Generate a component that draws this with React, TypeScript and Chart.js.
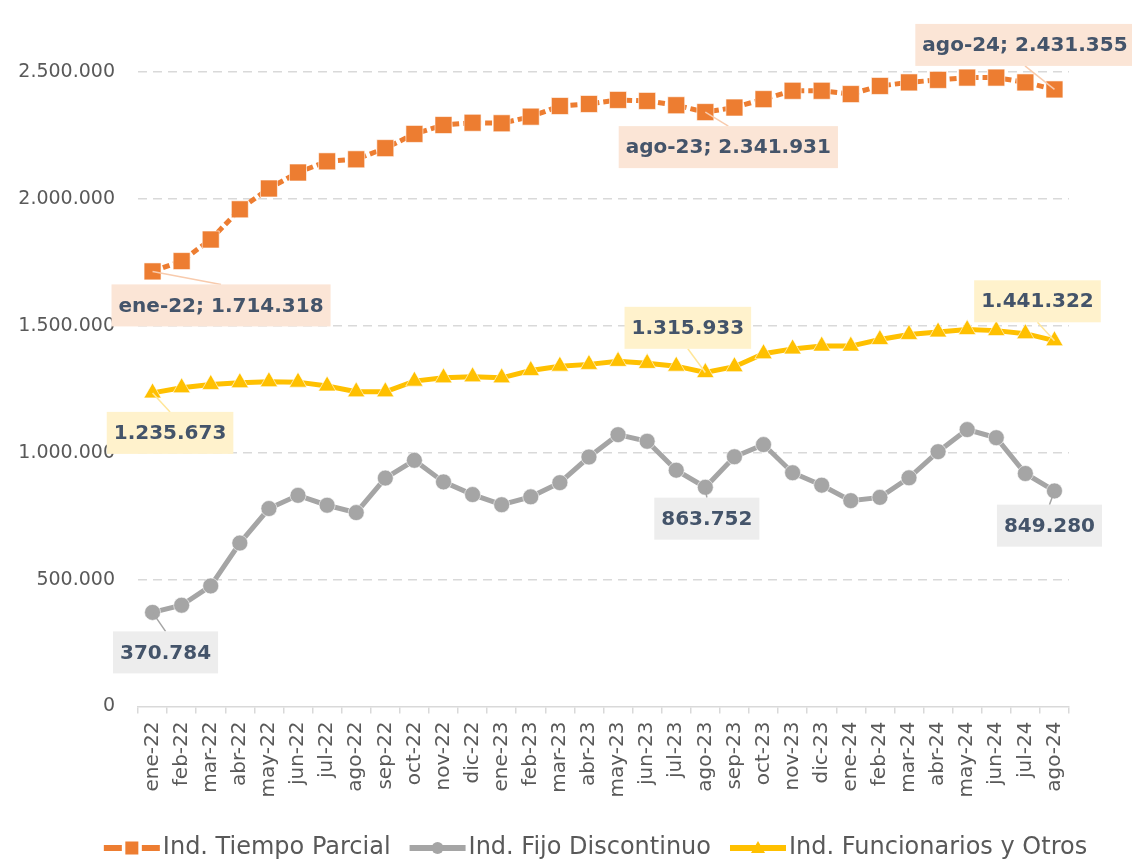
import React, { useEffect, useRef } from 'react';
import { Chart, registerables } from 'chart.js';

Chart.register(...registerables);

const FONT = '"DejaVu Sans", "Noto Sans", sans-serif';

const categories = [
  'ene-22', 'feb-22', 'mar-22', 'abr-22', 'may-22', 'jun-22', 'jul-22', 'ago-22',
  'sep-22', 'oct-22', 'nov-22', 'dic-22', 'ene-23', 'feb-23', 'mar-23', 'abr-23',
  'may-23', 'jun-23', 'jul-23', 'ago-23', 'sep-23', 'oct-23', 'nov-23', 'dic-23',
  'ene-24', 'feb-24', 'mar-24', 'abr-24', 'may-24', 'jun-24', 'jul-24', 'ago-24',
];

const tiempoParcial = [
  1714318, 1755000, 1840000, 1959000, 2041000, 2104000, 2148000, 2156000,
  2200000, 2256000, 2291000, 2300000, 2298000, 2324000, 2366000, 2374000,
  2390000, 2386000, 2369000, 2341931, 2360000, 2393000, 2426000, 2426000,
  2413000, 2445000, 2459000, 2469000, 2478000, 2478000, 2459000, 2431355,
];

const fijoDiscontinuo = [
  370784, 399000, 475000, 644000, 780000, 832000, 793000, 764000,
  900000, 970000, 885000, 835000, 795000, 826000, 882000, 983000,
  1071000, 1045000, 931000, 863752, 984000, 1032000, 921000, 872000,
  811000, 824000, 901000, 1004000, 1091000, 1059000, 918000, 849280,
];

const funcionarios = [
  1235673, 1256000, 1269000, 1276000, 1280000, 1278000, 1263000, 1240000,
  1240000, 1282000, 1295000, 1299000, 1295000, 1324000, 1341000, 1348000,
  1360000, 1352000, 1341000, 1315933, 1339000, 1390000, 1409000, 1420000,
  1420000, 1446000, 1466000, 1476000, 1485000, 1481000, 1469000, 1441322,
];

const yMin = 0;
const yMax = 2500000;
const yStep = 500000;

const seriesNames = ['Ind. Tiempo Parcial', 'Ind. Fijo Discontinuo', 'Ind. Funcionarios y Otros'];
const seriesColors = ['#ED7D31', '#A5A5A5', '#FFC000'];
const labelBg = ['#FBE5D6', '#EDEDED', '#FFF2CC'];
const leaderColors = ['#F8CBAD', '#A5A5A5', '#FFE699'];

// callout labels: dataset, index, box offset from point (px)
const callouts = [
  { ds: 0, i: 0, dx: 68.5, dy: 34, withCat: true },
  { ds: 0, i: 19, dx: 23, dy: 35, withCat: true },
  { ds: 0, i: 31, dx: -29.5, dy: -44.5, withCat: true },
  { ds: 2, i: 0, dx: 17.5, dy: 40, withCat: false },
  { ds: 2, i: 19, dx: -17.5, dy: -44.7, withCat: false },
  { ds: 2, i: 31, dx: -17, dy: -39.4, withCat: false },
  { ds: 1, i: 0, dx: 13, dy: 40, withCat: false },
  { ds: 1, i: 19, dx: 1.5, dy: 31.4, withCat: false },
  { ds: 1, i: 31, dx: -5, dy: 34.7, withCat: false },
];

const fmt = (v: number) => String(Math.round(v)).replace(/\B(?=(\d{3})+(?!\d))/g, '.');

const calloutPlugin = {
  id: 'callouts',
  afterDatasetsDraw(chart: any) {
    const ctx = chart.ctx;
    ctx.save();
    ctx.font = `bold 20px ${FONT}`;
    ctx.textAlign = 'center';
    ctx.textBaseline = 'middle';
    callouts.forEach((c) => {
      const pt = chart.getDatasetMeta(c.ds).data[c.i];
      if (!pt) return;
      const value = chart.data.datasets[c.ds].data[c.i] as number;
      const text = c.withCat ? `${chart.data.labels[c.i]}; ${fmt(value)}` : fmt(value);
      const tw = ctx.measureText(text).width;
      const bw = tw + 14;
      const bh = 42;
      const cx = pt.x + c.dx;
      const cy = pt.y + c.dy;
      const ey = c.dy > 0 ? cy - bh / 2 : cy + bh / 2;
      ctx.strokeStyle = leaderColors[c.ds];
      ctx.lineWidth = 1.5;
      ctx.setLineDash([]);
      ctx.beginPath();
      ctx.moveTo(pt.x, pt.y);
      ctx.lineTo(cx, ey);
      ctx.stroke();
      ctx.fillStyle = labelBg[c.ds];
      ctx.fillRect(cx - bw / 2, cy - bh / 2, bw, bh);
      ctx.fillStyle = '#44546A';
      ctx.fillText(text, cx, cy + 1);
    });
    ctx.restore();
  },
};

const legendPlugin = {
  id: 'customLegend',
  afterDraw(chart: any) {
    const ctx = chart.ctx;
    ctx.save();
    ctx.font = `24px ${FONT}`;
    const symW = 56;
    const symGap = 3;
    const itemGap = 19;
    const widths = seriesNames.map((n) => ctx.measureText(n).width);
    const total = widths.reduce((a, w) => a + symW + symGap + w, 0) + itemGap * (seriesNames.length - 1);
    let x = 595.5 - total / 2;
    const y = 848;
    seriesNames.forEach((name, k) => {
      const col = seriesColors[k];
      ctx.fillStyle = col;
      ctx.strokeStyle = col;
      const mx = x + symW / 2;
      if (k === 0) {
        ctx.fillRect(x, y - 3, 18, 6);
        ctx.fillRect(x + symW - 18, y - 3, 18, 6);
        ctx.fillRect(mx - 6.5, y - 6.5, 13, 13);
      } else {
        ctx.fillRect(x, y - 3, symW, 6);
        ctx.beginPath();
        if (k === 1) {
          ctx.arc(mx, y, 6, 0, Math.PI * 2);
        } else {
          ctx.moveTo(mx, y - 7);
          ctx.lineTo(mx + 7, y + 5);
          ctx.lineTo(mx - 7, y + 5);
          ctx.closePath();
        }
        ctx.fill();
      }
      ctx.fillStyle = '#595959';
      ctx.textAlign = 'left';
      ctx.textBaseline = 'middle';
      ctx.fillText(name, x + symW + symGap, y);
      x += symW + symGap + widths[k] + itemGap;
    });
    ctx.restore();
  },
};

export default function App() {
  const ref = useRef<HTMLCanvasElement | null>(null);

  useEffect(() => {
    document.body.style.margin = '0';
    if (!ref.current) return;
    const mk = (k: number, data: number[], style: any, radius: number, dash: number[]) => ({
      label: seriesNames[k],
      data,
      borderColor: seriesColors[k],
      backgroundColor: seriesColors[k],
      borderWidth: 5,
      borderDash: dash,
      tension: 0,
      pointStyle: style,
      pointRadius: radius,
      pointHoverRadius: radius,
      pointBackgroundColor: seriesColors[k],
      pointBorderColor: 'rgba(255,255,255,0.6)',
      pointBorderWidth: 1,
      clip: false,
    });
    const chart = new Chart(ref.current, {
      type: 'line',
      data: {
        labels: categories,
        datasets: [
          mk(0, tiempoParcial, 'rect', 12, [7, 4]),
          mk(1, fijoDiscontinuo, 'circle', 8, []),
          mk(2, funcionarios, 'triangle', 10, []),
        ],
      },
      options: {
        animation: false,
        responsive: false,
        maintainAspectRatio: false,
        layout: { padding: { left: 0, right: 63, top: 72, bottom: 0 } },
        plugins: {
          legend: { display: false },
          tooltip: { enabled: false },
        },
        scales: {
          x: {
            type: 'category',
            offset: true,
            grid: {
              display: true,
              drawOnChartArea: false,
              drawTicks: true,
              tickLength: 7,
              offset: true,
              color: '#D9D9D9',
              lineWidth: 1.5,
            },
            border: { display: true, color: '#D9D9D9', width: 1.5 },
            ticks: {
              autoSkip: false,
              maxRotation: 90,
              minRotation: 90,
              padding: 8,
              color: '#595959',
              font: { family: FONT, size: 20 },
            },
            afterFit: (s: any) => {
              s.height = 154.5;
            },
          },
          y: {
            min: yMin,
            max: yMax,
            grid: {
              drawTicks: false,
              color: (c: any) => (c.tick && c.tick.value === 0 ? 'rgba(0,0,0,0)' : '#D9D9D9'),
              lineWidth: 1.5,
            },
            border: { display: false, dash: [9, 6] },
            ticks: {
              stepSize: yStep,
              padding: 23,
              color: '#595959',
              font: { family: FONT, size: 19 },
              callback: (v: any) => fmt(Number(v)),
            },
            afterFit: (s: any) => {
              s.width = 138;
            },
          },
        },
      },
      plugins: [calloutPlugin, legendPlugin],
    });
    return () => chart.destroy();
  }, []);

  return (
    <div style={{ width: 1132, height: 861 }}>
      <canvas ref={ref} width={1132} height={861} style={{ display: 'block' }} />
    </div>
  );
}
